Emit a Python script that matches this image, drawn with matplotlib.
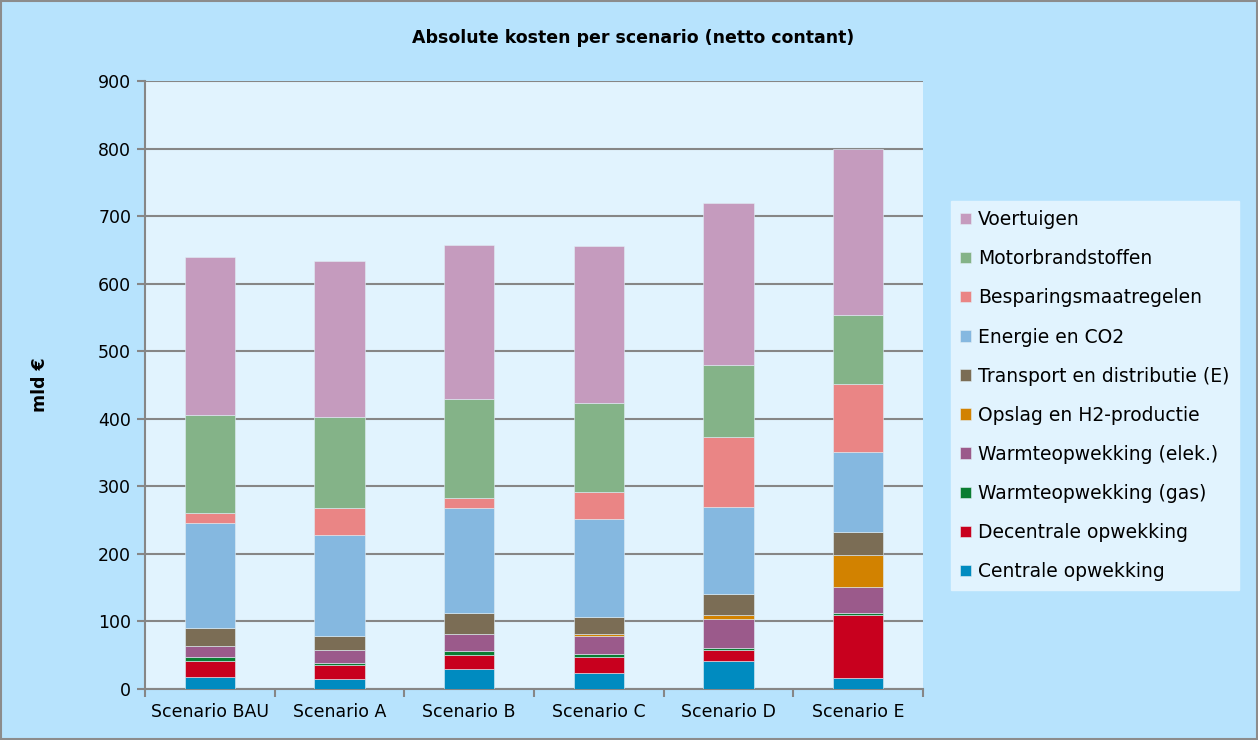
import matplotlib.pyplot as plt
import numpy as np
from matplotlib.patches import Rectangle

scenarios = ['Scenario BAU', 'Scenario A', 'Scenario B', 'Scenario C', 'Scenario D', 'Scenario E']

# stacked from bottom to top
centrale = [18, 15, 30, 24, 42, 16]
decentrale = [23, 20, 20, 23, 16, 94]
warmte_gas = [6, 3, 6, 5, 3, 3]
warmte_elek = [16, 20, 26, 26, 43, 38]
opslag = [1, 0, 0, 4, 6, 48]
transport = [26, 20, 31, 25, 31, 34]
energie = [156, 150, 155, 145, 129, 118]
besparing = [14, 40, 15, 40, 103, 101]
motor = [146, 134, 146, 131, 106, 102]
voertuigen = [233, 232, 229, 233, 241, 245]

series = [
    ('Centrale opwekking', centrale, '#008BC0'),
    ('Decentrale opwekking', decentrale, '#C8001E'),
    ('Warmteopwekking (gas)', warmte_gas, '#0A7D32'),
    ('Warmteopwekking (elek.)', warmte_elek, '#9B5A8B'),
    ('Opslag en H2-productie', opslag, '#D28200'),
    ('Transport en distributie (E)', transport, '#7B6D55'),
    ('Energie en CO2', energie, '#85B8E0'),
    ('Besparingsmaatregelen', besparing, '#EA8585'),
    ('Motorbrandstoffen', motor, '#84B388'),
    ('Voertuigen', voertuigen, '#C59BBE'),
]

fig = plt.figure(figsize=(12.58, 7.40), dpi=100, facecolor='#B7E3FD')
fig.patches.append(Rectangle((0.001, 0.001), 0.998, 0.997, transform=fig.transFigure,
                             fill=False, edgecolor='#8C8C8C', linewidth=1.5))
ax = fig.add_axes([0.1153, 0.0689, 0.6184, 0.8216])
ax.set_facecolor('#E1F3FE')

x = np.arange(len(scenarios))
bottom = np.zeros(len(scenarios))
handles = []
for name, vals, col in series:
    b = ax.bar(x, vals, 0.39, bottom=bottom, color=col, edgecolor='#E1EEF5',
               linewidth=0.4, label=name, zorder=3)
    handles.append(b)
    bottom += np.array(vals)

ax.set_xlim(-0.5, len(scenarios) - 0.5)
ax.set_ylim(0, 900)
ax.set_yticks(np.arange(0, 901, 100))
ax.yaxis.grid(True, color='#868686', linewidth=1.5, zorder=0)
ax.set_axisbelow(True)
ax.set_xticks(x)
ax.set_xticklabels(scenarios, fontsize=12.5)
ax.set_xticks(np.arange(-0.5, len(scenarios)), minor=True)
ax.tick_params(axis='x', which='major', length=0, pad=10)
ax.tick_params(axis='x', which='minor', length=6, width=1.5, color='#868686')
ax.tick_params(axis='y', labelsize=12.5, length=6, width=1.5, color='#868686', pad=4)
for s in ['top', 'right']:
    ax.spines[s].set_visible(False)
for s in ['left', 'bottom']:
    ax.spines[s].set_color('#868686')
    ax.spines[s].set_linewidth(1.5)

fig.text(0.032, 0.48, 'mld €', rotation=90, ha='center', va='center',
         fontsize=12.5, fontweight='bold')
fig.text(0.503, 0.948, 'Absolute kosten per scenario (netto contant)', ha='center',
         va='center', fontsize=12.5, fontweight='bold')

leg = fig.legend(handles[::-1], [s[0] for s in series][::-1], loc='upper left',
                 bbox_to_anchor=(0.756, 0.7284), fontsize=13.5, frameon=True,
                 fancybox=False, facecolor='#E1F3FE', edgecolor='#E1F3FE',
                 handlelength=0.55, handleheight=0.55, handletextpad=0.4,
                 labelspacing=1.07, borderpad=0.5, borderaxespad=0)
leg.get_frame().set_alpha(1)

fig.savefig('out.png', dpi=100, facecolor=fig.get_facecolor())
